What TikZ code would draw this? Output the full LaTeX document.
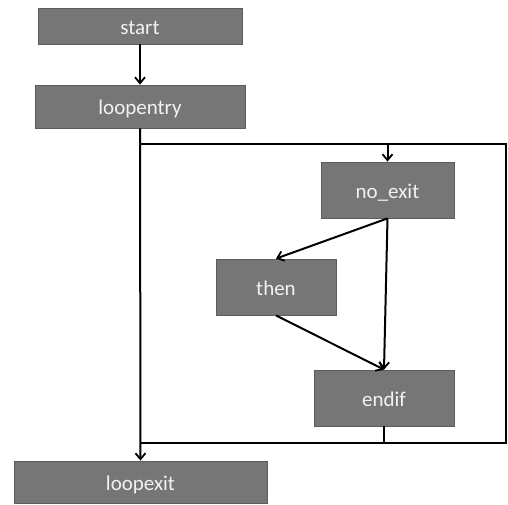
\documentclass[tikz,border=0pt]{standalone}
\usepackage{fontspec}
\setmainfont{Carlito}
\usepackage{xcolor}
\usepackage{tikz}
\usetikzlibrary{arrows.meta,calc,positioning}
\definecolor{boxGray}{HTML}{767676}
\definecolor{edgeGray}{HTML}{5C5C5C}
\definecolor{textWhite}{HTML}{F2F2F2}

\begin{document}
\begin{tikzpicture}[x=1pt,y=-1pt,
    box/.style={draw=edgeGray,line width=0.8pt,fill=boxGray,text=textWhite,
      inner sep=0pt,text height=17pt,text depth=0pt,font=\fontsize{21}{24}\selectfont},
    arrow/.style={-{Straight Barb[length=6pt,width=10pt,line width=1.8pt]},line width=2pt},
    wire/.style={line width=2pt}]
    \useasboundingbox (0,0) rectangle (508,505);
    \node[box,minimum width=204pt,minimum height=36pt] (start) at (140,26) {start};
    \node[box,minimum width=210pt,minimum height=43pt] (loopentry) at (140,106.5) {loopentry};
    \node[box,minimum width=133pt,minimum height=56pt] (noexit) at (387.5,190) {no\_exit};
    \node[box,minimum width=120pt,minimum height=56pt] (then) at (276,287) {then};
    \node[box,minimum width=140pt,minimum height=56pt] (endif) at (384,398) {endif};
    \node[box,minimum width=253pt,minimum height=42pt] (loopexit) at (140.5,482) {loopexit};
    % loop frame
    \coordinate (looptop) at (140,144);
    \coordinate (loopbot) at (140,443);
    \coordinate (loopright) at (506,144);
    \draw[wire] (looptop) -- (loopright) |- (loopbot);
    \draw[wire] (endif.south) -- (endif.south |- loopbot);
    % edges
    \draw[arrow] (start) -- (loopentry);
    \draw[arrow] (loopentry) -- (loopexit);
    \draw[arrow] (noexit.north |- looptop) -- (noexit);
    \draw[arrow] (noexit.south) -- (then.north);
    \draw[arrow] (noexit.south) -- (endif.north);
    \draw[arrow] (then.south) -- (endif.north);
  \end{tikzpicture}
\end{document}
